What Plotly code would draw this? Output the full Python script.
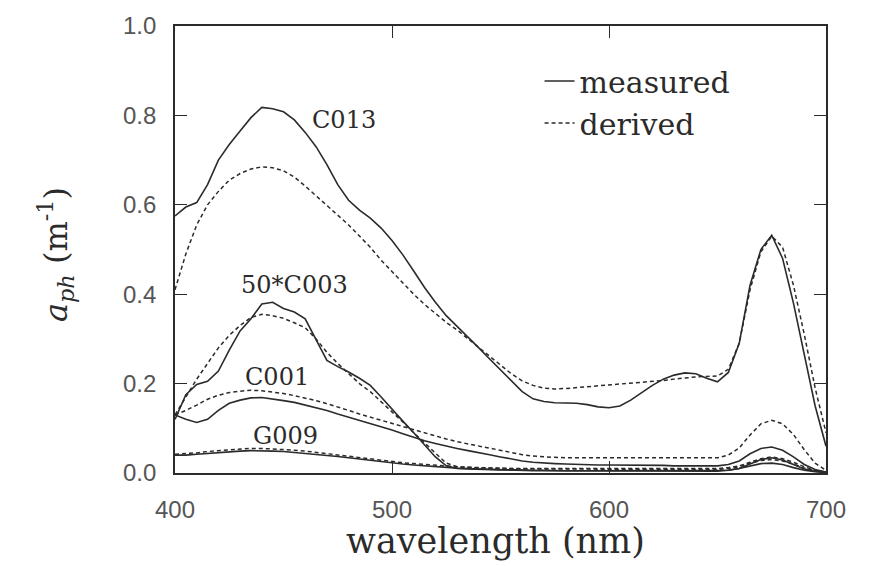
import plotly.graph_objects as go

wavelength = list(range(400, 705, 5))

c013_measured = [
    0.575, 0.595, 0.605, 0.645, 0.700, 0.735, 0.765, 0.795, 0.818, 0.815,
    0.808, 0.790, 0.762, 0.730, 0.690, 0.645, 0.610, 0.588, 0.570, 0.548,
    0.520, 0.488, 0.452, 0.415, 0.382, 0.352, 0.328, 0.305, 0.280, 0.255,
    0.230, 0.205, 0.182, 0.166, 0.160, 0.157, 0.157, 0.156, 0.153, 0.148,
    0.146, 0.150, 0.163, 0.180, 0.196, 0.210, 0.219, 0.224, 0.222, 0.212,
    0.204, 0.225, 0.290, 0.420, 0.500, 0.532, 0.480, 0.380, 0.265, 0.150,
    0.060]
c013_derived = [
    0.410, 0.490, 0.555, 0.600, 0.630, 0.655, 0.670, 0.680, 0.685, 0.683,
    0.676, 0.662, 0.642, 0.620, 0.598, 0.576, 0.555, 0.530, 0.505, 0.476,
    0.450, 0.426, 0.400, 0.377, 0.356, 0.337, 0.320, 0.300, 0.280, 0.260,
    0.240, 0.222, 0.206, 0.196, 0.190, 0.188, 0.189, 0.191, 0.193, 0.195,
    0.197, 0.199, 0.200, 0.202, 0.204, 0.207, 0.210, 0.213, 0.215, 0.216,
    0.217, 0.232, 0.290, 0.410, 0.495, 0.530, 0.505, 0.420, 0.310, 0.190,
    0.090]
c003x50_measured = [
    0.120, 0.175, 0.198, 0.205, 0.228, 0.275, 0.318, 0.345, 0.378, 0.382,
    0.368, 0.360, 0.345, 0.298, 0.252, 0.238, 0.226, 0.212, 0.196, 0.170,
    0.142, 0.116, 0.090, 0.062, 0.036, 0.016, 0.010, 0.009, 0.008, 0.008,
    0.007, 0.007, 0.006, 0.006, 0.006, 0.005, 0.005, 0.005, 0.005, 0.005,
    0.005, 0.005, 0.005, 0.005, 0.005, 0.005, 0.005, 0.005, 0.005, 0.005,
    0.005, 0.006, 0.010, 0.016, 0.021, 0.022, 0.019, 0.012, 0.006, 0.003,
    0.001]
c003x50_derived = [
    0.130, 0.170, 0.210, 0.245, 0.280, 0.308, 0.330, 0.348, 0.355, 0.352,
    0.346, 0.336, 0.325, 0.300, 0.270, 0.245, 0.222, 0.200, 0.182, 0.160,
    0.136, 0.114, 0.090, 0.068, 0.045, 0.022, 0.014, 0.012, 0.011, 0.011,
    0.010, 0.010, 0.010, 0.010, 0.010, 0.010, 0.010, 0.010, 0.010, 0.010,
    0.010, 0.010, 0.010, 0.010, 0.010, 0.010, 0.010, 0.010, 0.010, 0.010,
    0.010, 0.012, 0.016, 0.024, 0.032, 0.036, 0.032, 0.024, 0.014, 0.006,
    0.002]
c001_measured = [
    0.130, 0.120, 0.113, 0.120, 0.140, 0.156, 0.163, 0.168, 0.169, 0.166,
    0.162, 0.158, 0.152, 0.146, 0.140, 0.132, 0.125, 0.118, 0.111, 0.104,
    0.096, 0.088, 0.080, 0.072, 0.066, 0.060, 0.055, 0.050, 0.046, 0.041,
    0.036, 0.031, 0.027, 0.024, 0.022, 0.021, 0.020, 0.019, 0.019, 0.018,
    0.018, 0.018, 0.017, 0.017, 0.017, 0.017, 0.016, 0.016, 0.016, 0.016,
    0.016, 0.019, 0.027, 0.043, 0.055, 0.058, 0.051, 0.036, 0.019, 0.008,
    0.002]
c001_derived = [
    0.130, 0.140, 0.152, 0.165, 0.174, 0.180, 0.183, 0.185, 0.184, 0.181,
    0.178, 0.173, 0.168, 0.162, 0.155, 0.148, 0.140, 0.132, 0.125, 0.118,
    0.110, 0.103, 0.096, 0.089, 0.082, 0.076, 0.070, 0.065, 0.060, 0.055,
    0.050, 0.045, 0.041, 0.038, 0.036, 0.035, 0.034, 0.034, 0.034, 0.034,
    0.034, 0.034, 0.034, 0.034, 0.034, 0.034, 0.034, 0.034, 0.034, 0.034,
    0.034, 0.040, 0.056, 0.085, 0.110, 0.118, 0.110, 0.086, 0.052, 0.022,
    0.006]
g009_measured = [
    0.040, 0.040, 0.042, 0.044, 0.046, 0.048, 0.049, 0.050, 0.050, 0.049,
    0.048, 0.046, 0.044, 0.042, 0.040, 0.037, 0.034, 0.031, 0.028, 0.025,
    0.022, 0.020, 0.018, 0.016, 0.014, 0.012, 0.011, 0.010, 0.009, 0.008,
    0.007, 0.007, 0.006, 0.005, 0.005, 0.005, 0.005, 0.005, 0.005, 0.005,
    0.004, 0.004, 0.004, 0.004, 0.004, 0.004, 0.004, 0.004, 0.004, 0.004,
    0.004, 0.006, 0.010, 0.020, 0.030, 0.034, 0.029, 0.019, 0.009, 0.004,
    0.001]
g009_derived = [
    0.042, 0.043, 0.045, 0.048, 0.050, 0.052, 0.054, 0.055, 0.055, 0.054,
    0.053, 0.051, 0.049, 0.046, 0.043, 0.040, 0.037, 0.034, 0.031, 0.028,
    0.025, 0.023, 0.021, 0.019, 0.017, 0.015, 0.014, 0.013, 0.012, 0.011,
    0.010, 0.009, 0.009, 0.009, 0.009, 0.009, 0.009, 0.009, 0.009, 0.008,
    0.008, 0.008, 0.008, 0.008, 0.008, 0.008, 0.008, 0.008, 0.008, 0.008,
    0.008, 0.010, 0.014, 0.022, 0.028, 0.030, 0.027, 0.020, 0.011, 0.005,
    0.002]

curve_labels = ["C013", "50*C003", "C001", "G009"]
label_x = [478, 455, 447, 451]
label_y = [0.789, 0.421, 0.215, 0.082]

x_ticks = [400, 500, 600, 700]
y_ticks = [0.0, 0.2, 0.4, 0.6, 0.8, 1.0]

INK = "#2b2b2b"
SERIF = "DejaVu Serif"
SANS = "Liberation Sans"

measured = [c013_measured, c003x50_measured, c001_measured, g009_measured]
derived = [c013_derived, c003x50_derived, c001_derived, g009_derived]

fig = go.Figure()
for i, ys in enumerate(measured):
    fig.add_trace(go.Scatter(
        x=wavelength, y=ys, mode="lines", name="measured",
        showlegend=(i == 0), legendgroup="m",
        line=dict(color=INK, width=1.6)))
for i, ys in enumerate(derived):
    fig.add_trace(go.Scatter(
        x=wavelength, y=ys, mode="lines", name="derived",
        showlegend=(i == 0), legendgroup="d",
        line=dict(color=INK, width=1.5, dash="4px,3px")))

for t, lx, ly in zip(curve_labels, label_x, label_y):
    fig.add_annotation(x=lx, y=ly, text=t, showarrow=False,
                       font=dict(family=SERIF, size=24, color=INK),
                       xanchor="center", yanchor="middle")

fig.add_annotation(xref="paper", yref="paper", x=0.4916, y=-0.153,
                   text="wavelength (nm)", showarrow=False,
                   font=dict(family=SERIF, size=35, color=INK),
                   xanchor="center", yanchor="middle")
fig.add_annotation(xref="paper", yref="paper", x=-0.184, y=0.488,
                   text="<i>a</i><sub><i>ph</i></sub> (m<sup>-1</sup>)",
                   textangle=-90, showarrow=False,
                   font=dict(family=SERIF, size=32, color=INK),
                   xanchor="center", yanchor="middle")

axis_common = dict(
    showline=True, linecolor=INK, linewidth=1.6, mirror="ticks",
    ticks="inside", ticklen=12, tickwidth=1.4, tickcolor=INK,
    showgrid=False, zeroline=False,
    tickfont=dict(family=SANS, size=24, color="#555"),
)
fig.update_xaxes(range=[400, 700], tickvals=x_ticks,
                 ticklabelstandoff=14, **axis_common)
fig.update_yaxes(range=[0, 1.0], tickvals=y_ticks, tickformat=".1f",
                 ticklabelstandoff=12, **axis_common)

fig.update_layout(
    width=869, height=566,
    margin=dict(l=175, r=43, t=22, b=93),
    paper_bgcolor="white", plot_bgcolor="white",
    showlegend=True,
    legend=dict(x=0.56, y=0.935, xanchor="left", yanchor="top",
                bgcolor="rgba(0,0,0,0)", borderwidth=0,
                font=dict(family=SERIF, size=30, color=INK),
                tracegroupgap=0),
)

fig.write_html("out.html")
